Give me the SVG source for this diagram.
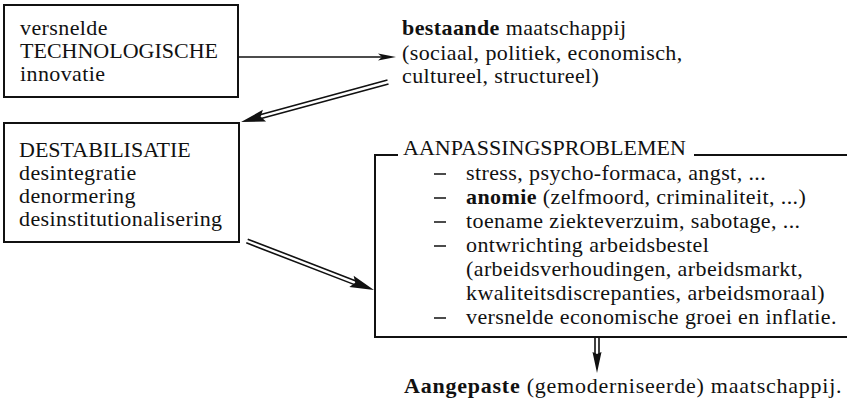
<svg xmlns="http://www.w3.org/2000/svg" width="847" height="401" viewBox="0 0 847 401">
<style>
text{font-family:"Liberation Serif","Times New Roman",serif;font-size:22px;fill:#111;letter-spacing:0.4px}
.c{letter-spacing:0}
.b{font-weight:bold}
.box{fill:none;stroke:#111;stroke-width:2}
.ln{stroke:#111;stroke-width:1.6;fill:none}
.hd{fill:#111}
</style>
<rect width="847" height="401" fill="#fff"/>
<g id="technologie">
<rect class="box" x="4" y="5" width="234" height="92"/>
<text x="20" y="35">versnelde</text>
<text class="c" x="20" y="58">TECHNOLOGISCHE</text>
<text x="20" y="81">innovatie</text>
</g>
<g id="maatschappij">
<text x="402" y="35"><tspan class="b">bestaande</tspan> maatschappij</text>
<text x="402" y="60">(sociaal, politiek, economisch,</text>
<text x="402" y="83">cultureel, structureel)</text>
</g>
<g id="destabilisatie">
<rect class="box" x="4" y="123" width="235" height="119"/>
<text class="c" x="19" y="157">DESTABILISATIE</text>
<text x="19" y="180">desintegratie</text>
<text x="19" y="203">denormering</text>
<text x="19" y="226">desinstitutionalisering</text>
</g>
<g id="aanpassingsproblemen">
<path class="box" d="M398 155H375V337H847M694 155H847"/>
<text class="c" x="403" y="155">AANPASSINGSPROBLEMEN</text>
<path class="ln" d="M434 174H446M434 198H446M434 222H446M434 246H446M434 318H446"/>
<text x="466" y="180">stress, psycho-formaca, angst, ...</text>
<text x="466" y="204"><tspan class="b">anomie</tspan> (zelfmoord, criminaliteit, ...)</text>
<text x="466" y="228">toename ziekteverzuim, sabotage, ...</text>
<text x="466" y="252">ontwrichting arbeidsbestel</text>
<text x="466" y="276">(arbeidsverhoudingen, arbeidsmarkt,</text>
<text x="466" y="300">kwaliteitsdiscrepanties, arbeidsmoraal)</text>
<text x="466" y="324">versnelde economische groei en inflatie.</text>
</g>
<g id="aangepaste">
<text x="404" y="393" textLength="438" lengthAdjust="spacing"><tspan class="b">Aangepaste</tspan> (gemoderniseerde) maatschappij.</text>
</g>
<g id="connectors">
<line class="ln" x1="238" y1="57" x2="384" y2="57"/>
<polygon class="hd" points="396,57 378,53.5 382,57 378,60.5"/>
<g transform="translate(388,82) rotate(164.78)">
<path class="ln" d="M0 -2H132M0 2H132"/>
<polygon class="hd" points="152.3,0 128,-6 132,0 128,6"/>
</g>
<g transform="translate(247,241) rotate(21.1)">
<path class="ln" d="M0 -2H116M0 2H116"/>
<polygon class="hd" points="136.1,0 112,-6 116,0 112,6"/>
</g>
<g transform="translate(597,337) rotate(90)">
<path class="ln" d="M0 -2H17M0 2H17"/>
<polygon class="hd" points="36,0 15,-4.5 17,0 15,4.5"/>
</g>
</g>
</svg>
